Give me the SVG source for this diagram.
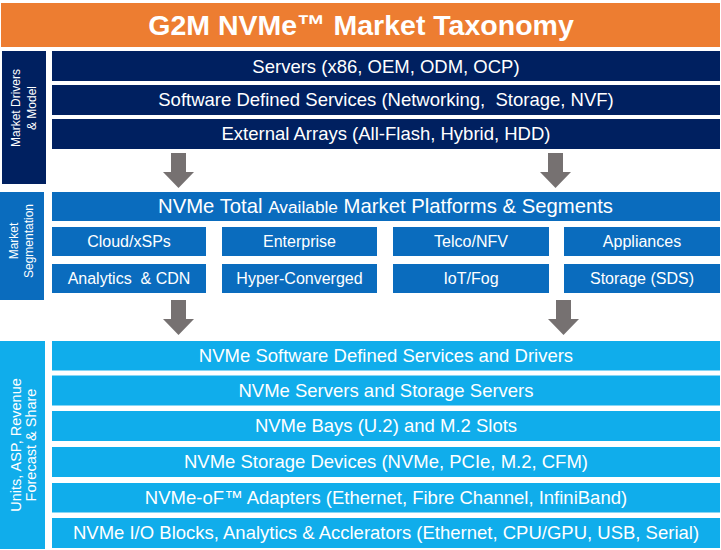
<svg xmlns="http://www.w3.org/2000/svg" width="721" height="550" viewBox="0 0 721 550">
<style>
  text { font-family: "Liberation Sans", Arial, sans-serif; fill: #ffffff; }
  .row { font-size: 18.5px; text-anchor: middle; }
  .sub { font-size: 16px; text-anchor: middle; }
  .side { font-size: 12px; text-anchor: middle; }
  .side3 { font-size: 14.5px; text-anchor: middle; }
  .navy { fill: #002060; }
  .mid { fill: #0A6CBE; }
  .light { fill: #10ADEB; }
  .arrow { fill: #767171; }
</style>
<rect width="721" height="550" fill="#ffffff"/>

<g id="title">
  <rect x="1" y="3" width="719" height="44" fill="#ED7D31"/>
  <text x="361" y="35" style="font-size:28.5px;font-weight:bold;text-anchor:middle">G2M NVMe™ Market Taxonomy</text>
</g>

<g id="label-drivers">
  <rect class="navy" x="2" y="51" width="44" height="133"/>
  <text class="side" transform="translate(20,108) rotate(-90)">Market Drivers</text>
  <text class="side" transform="translate(36,108) rotate(-90)">&amp; Model</text>
</g>
<g id="servers">
  <rect class="navy" x="52" y="51" width="668" height="30"/>
  <text class="row" x="386" y="72.5">Servers (x86, OEM, ODM, OCP)</text>
</g>
<g id="sds">
  <rect class="navy" x="52" y="85" width="668" height="30"/>
  <text class="row" x="386" y="106" xml:space="preserve">Software Defined Services (Networking,  Storage, NVF)</text>
</g>
<g id="arrays">
  <rect class="navy" x="52" y="119" width="668" height="30"/>
  <text class="row" x="386" y="140">External Arrays (All-Flash, Hybrid, HDD)</text>
</g>

<g id="label-segmentation">
  <rect class="mid" x="0" y="192" width="44" height="108"/>
  <text class="side" transform="translate(18,241) rotate(-90)">Market</text>
  <text class="side" transform="translate(33,241) rotate(-90)">Segmentation</text>
</g>
<g id="tam">
  <rect class="mid" x="52" y="192" width="668" height="29"/>
  <text x="385.5" y="213" style="font-size:20.3px;text-anchor:middle">NVMe Total <tspan style="font-size:17.3px">Available</tspan> Market Platforms &amp; Segments</text>
</g>
<g id="cloud">
  <rect class="mid" x="52" y="227" width="154" height="29"/>
  <text class="sub" x="129" y="246.5">Cloud/xSPs</text>
</g>
<g id="enterprise">
  <rect class="mid" x="222" y="227" width="155" height="29"/>
  <text class="sub" x="299.5" y="246.5">Enterprise</text>
</g>
<g id="telco">
  <rect class="mid" x="393" y="227" width="156" height="29"/>
  <text class="sub" x="471" y="246.5">Telco/NFV</text>
</g>
<g id="appliances">
  <rect class="mid" x="564" y="227" width="156" height="29"/>
  <text class="sub" x="642" y="246.5">Appliances</text>
</g>
<g id="analytics">
  <rect class="mid" x="52" y="264" width="154" height="29"/>
  <text class="sub" x="129" y="283.5" xml:space="preserve">Analytics  &amp; CDN</text>
</g>
<g id="hci">
  <rect class="mid" x="222" y="264" width="155" height="29"/>
  <text class="sub" x="299.5" y="283.5">Hyper-Converged</text>
</g>
<g id="iot">
  <rect class="mid" x="393" y="264" width="156" height="29"/>
  <text class="sub" x="471" y="283.5">IoT/Fog</text>
</g>
<g id="storage-sds">
  <rect class="mid" x="564" y="264" width="156" height="29"/>
  <text class="sub" x="642" y="283.5">Storage (SDS)</text>
</g>

<g id="label-forecast">
  <rect class="light" x="0" y="341" width="45" height="208"/>
  <text class="side3" transform="translate(20.5,445) rotate(-90)">Units, ASP, Revenue</text>
  <text class="side3" transform="translate(36,445) rotate(-90)">Forecast &amp; Share</text>
</g>
<g id="nvme-sds">
  <rect class="light" x="52" y="341" width="668" height="29.5"/>
  <text class="row" x="386" y="361.5">NVMe Software Defined Services and Drivers</text>
</g>
<g id="nvme-servers">
  <rect class="light" x="52" y="375.5" width="668" height="30"/>
  <text class="row" x="386" y="396.5">NVMe Servers and Storage Servers</text>
</g>
<g id="nvme-bays">
  <rect class="light" x="52" y="411" width="668" height="30"/>
  <text class="row" x="386" y="431.5">NVMe Bays (U.2) and M.2 Slots</text>
</g>
<g id="nvme-devices">
  <rect class="light" x="52" y="447" width="668" height="30"/>
  <text class="row" x="386" y="467.5">NVMe Storage Devices (NVMe, PCIe, M.2, CFM)</text>
</g>
<g id="nvmeof">
  <rect class="light" x="52" y="483" width="668" height="29.5"/>
  <text class="row" x="386" y="503.5">NVMe-oF™ Adapters (Ethernet, Fibre Channel, InfiniBand)</text>
</g>
<g id="io-blocks">
  <rect class="light" x="52" y="518" width="668" height="30"/>
  <text class="row" x="386" y="539">NVMe I/O Blocks, Analytics &amp; Acclerators (Ethernet, CPU/GPU, USB, Serial)</text>
</g>

<g id="connectors">
  <polygon class="arrow" points="171,153 186,153 186,172 194,172 178.5,188 163,172 171,172"/>
  <polygon class="arrow" points="548,153 563,153 563,172 571,172 555.5,188 540,172 548,172"/>
  <polygon class="arrow" points="171,300 186,300 186,319 194,319 178.5,335 163,319 171,319"/>
  <polygon class="arrow" points="556,300 571,300 571,319 579,319 563.5,335 548,319 556,319"/>
</g>
</svg>
